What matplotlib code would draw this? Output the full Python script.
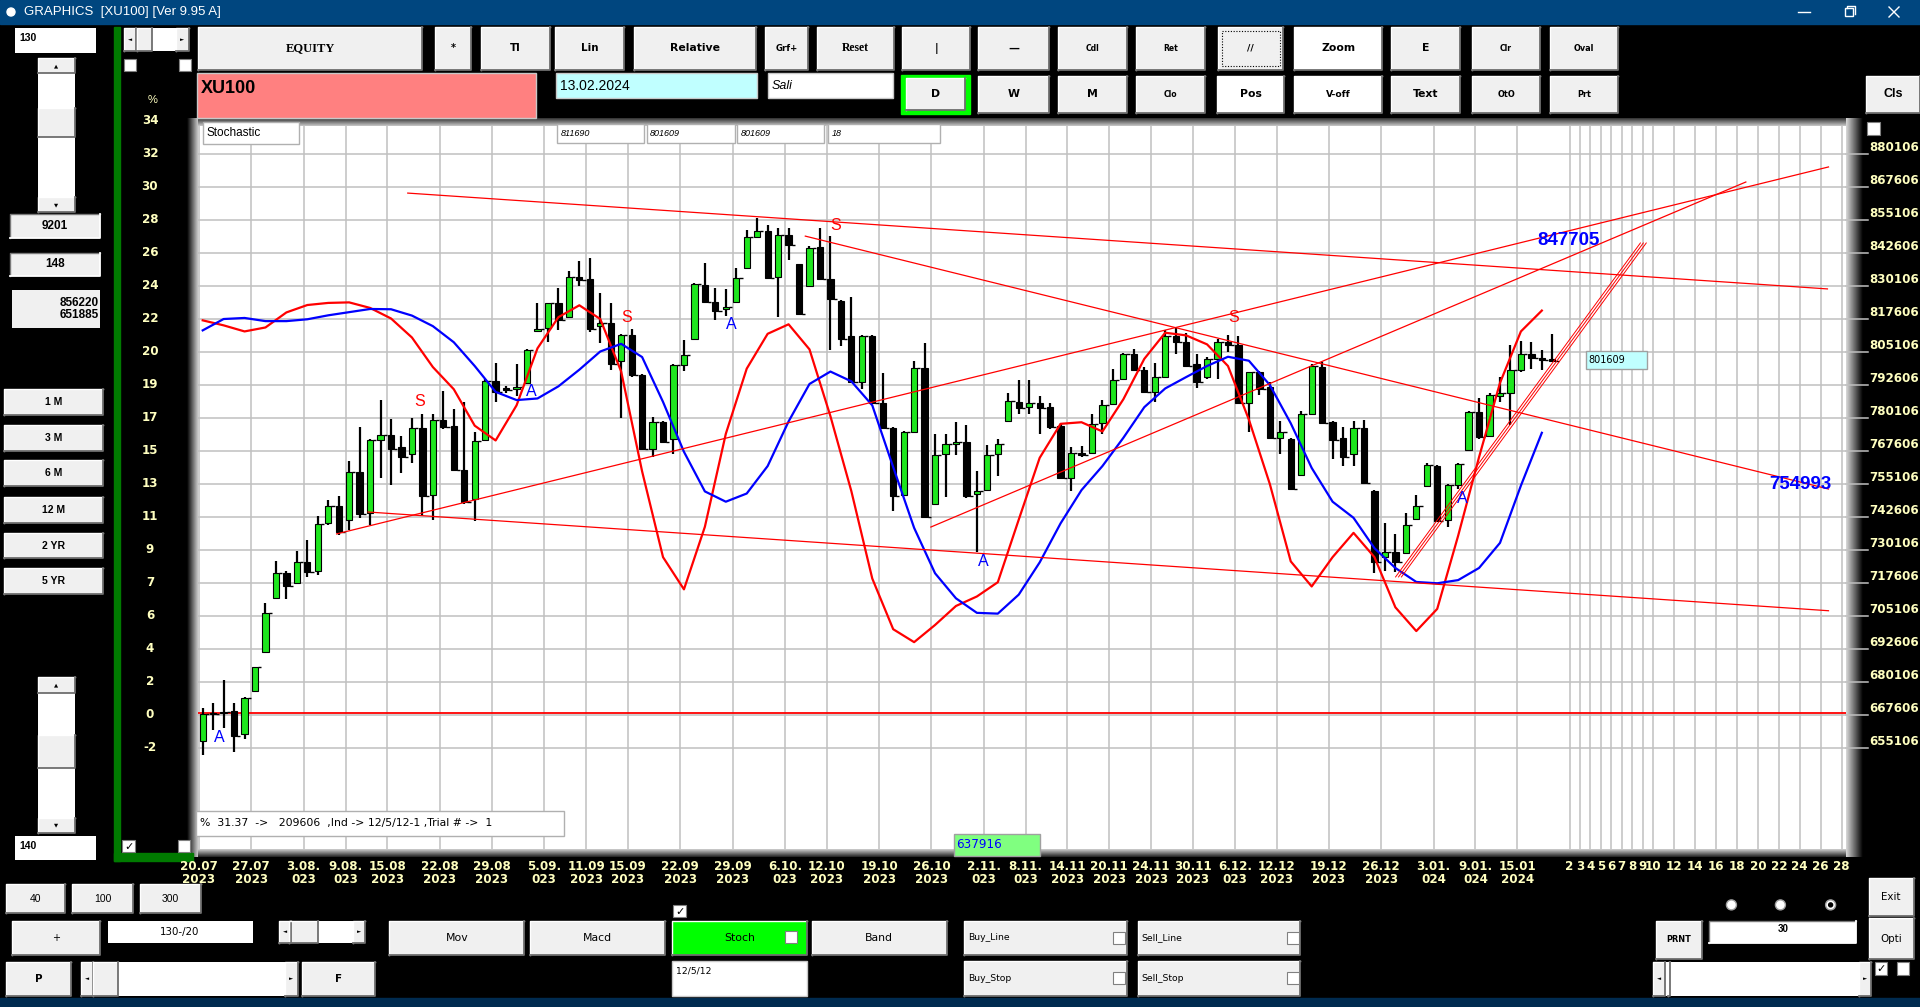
import numpy as np
import matplotlib
matplotlib.use("Agg")
import matplotlib.pyplot as plt
import matplotlib.transforms as mtransforms
from matplotlib import font_manager
from matplotlib.colors import to_rgb
from matplotlib.patches import Rectangle, Circle

# ---------------- data ----------------
dates = ["20.07\n2023", "27.07\n2023", "3.08.\n023", "9.08.\n023", "15.08\n2023",
         "22.08\n2023", "29.08\n2023", "5.09.\n023", "11.09\n2023", "15.09\n2023",
         "22.09\n2023", "29.09\n2023", "6.10.\n023", "12.10\n2023", "19.10\n2023",
         "26.10\n2023", "2.11.\n023", "8.11.\n023", "14.11\n2023", "20.11\n2023",
         "24.11\n2023", "30.11\n2023", "6.12.\n023", "12.12\n2023", "19.12\n2023",
         "26.12\n2023", "3.01.\n024", "9.01.\n024", "15.01\n2024"]
date_bars = [0, 5, 10, 14, 18, 23, 28, 33, 37, 41, 46, 51, 56, 60, 65,
             70, 75, 79, 83, 87, 91, 95, 99, 103, 108, 113, 118, 122, 126]
future_days = ["2", "3", "4", "5", "6", "7", "8", "9", "10",
               "12", "14", "16", "18", "20", "22", "24", "26", "28"]
future_bars = [131, 132, 133, 134, 135, 136, 137, 138, 139,
               141, 143, 145, 147, 149, 151, 153, 155, 157]

# price grid (right axis, index x100) and the matching % labels on the left
price_ticks = [655106, 667606, 680106, 692606, 705106, 717606, 730106, 742606,
               755106, 767606, 780106, 792606, 805106, 817606, 830106, 842606,
               855106, 867606, 880106]
pct_labels = ["-2", "0", "2", "4", "6", "7", "9", "11", "13", "15",
              "17", "19", "20", "22", "24", "26", "28", "30", "32", "34"]

opens = [6577, 6681, 6683, 6692, 6604, 6767, 6915, 7121, 7213, 7175,
         7256, 7220, 7402, 7467, 7416, 7596, 7443, 7718, 7737, 7691,
         7666, 7765, 7511, 7795, 7772, 7603, 7493, 7718, 7941, 7914,
         7910, 7934, 8129, 8143, 8235, 8183, 8336, 8327, 8151, 8160,
         8018, 8116, 7964, 7684, 7785, 7720, 8000, 8099, 8306, 8241,
         8214, 8239, 8370, 8485, 8509, 8336, 8496, 8383, 8302, 8447,
         8327, 8244, 8113, 7937, 8113, 7856, 7765, 7511, 7747, 7991,
         7474, 7664, 7704, 7710, 7515, 7528, 7664, 7788, 7862, 7842,
         7858, 7842, 7772, 7572, 7669, 7669, 7781, 7853, 7948, 8045,
         7984, 7899, 7957, 8113, 8088, 8007, 7955, 8025, 8088, 8079,
         7858, 7975, 7917, 7727, 7723, 7585, 7815, 7994, 7785, 7727,
         7664, 7765, 7524, 7274, 7294, 7290, 7420, 7545, 7619, 7416,
         7549, 7680, 7825, 7734, 7885, 7896, 7984, 8045, 8029, 8025]
closes = [6679, 6679, 6689, 6597, 6742, 6857, 7064, 7213, 7166, 7256,
          7216, 7400, 7467, 7371, 7596, 7436, 7716, 7737, 7684, 7653,
          7765, 7507, 7795, 7768, 7603, 7484, 7714, 7941, 7900, 7906,
          7917, 8059, 8140, 8235, 8174, 8336, 8322, 8140, 8160, 8005,
          8116, 7964, 7684, 7785, 7711, 8000, 8038, 8309, 8241, 8208,
          8221, 8333, 8485, 8509, 8332, 8496, 8455, 8194, 8444, 8329,
          8251, 8102, 7937, 8113, 7858, 7765, 7504, 7747, 7991, 7425,
          7662, 7704, 7710, 7504, 7524, 7662, 7703, 7866, 7840, 7858,
          7840, 7768, 7572, 7669, 7660, 7777, 7852, 7946, 8045, 7984,
          7899, 7957, 8113, 8088, 7998, 7937, 8025, 8088, 8079, 7858,
          7975, 7910, 7727, 7747, 7534, 7815, 7998, 7781, 7718, 7655,
          7765, 7555, 7254, 7294, 7254, 7396, 7466, 7623, 7412, 7549,
          7628, 7825, 7730, 7887, 7896, 7982, 8045, 8029, 8021, 8016]
highs = [6703, 6722, 6807, 6722, 6746, 6858, 7101, 7258, 7220, 7297,
         7339, 7430, 7490, 7504, 7639, 7768, 7723, 7869, 7799, 7731,
         7802, 7815, 7818, 7903, 7835, 7862, 7747, 7950, 8011, 7923,
         8005, 8061, 8237, 8237, 8295, 8356, 8397, 8408, 8275, 8235,
         8120, 8140, 7967, 7804, 7791, 8005, 8095, 8312, 8390, 8295,
         8289, 8370, 8512, 8559, 8532, 8519, 8519, 8386, 8451, 8519,
         8492, 8248, 8259, 8115, 8115, 7971, 7768, 7750, 8018, 8086,
         7741, 7741, 7785, 7775, 7599, 7700, 7720, 7896, 7944, 7944,
         7885, 7856, 7781, 7693, 7696, 7815, 7869, 7988, 8048, 8061,
         7994, 8011, 8133, 8147, 8124, 8045, 8032, 8102, 8115, 8113,
         7977, 7980, 7937, 7791, 7727, 7829, 8005, 8015, 7788, 7768,
         7788, 7795, 7528, 7402, 7362, 7443, 7511, 7632, 7622, 7551,
         7632, 7829, 7876, 7896, 7957, 8079, 8092, 8088, 8059, 8120]
lows = [6523, 6618, 6627, 6536, 6584, 6762, 6913, 7118, 7114, 7172,
        7200, 7206, 7396, 7359, 7375, 7423, 7396, 7572, 7549, 7592,
        7632, 7430, 7416, 7761, 7599, 7477, 7412, 7714, 7862, 7896,
        7885, 7930, 8126, 8088, 8133, 8180, 8302, 8126, 8086, 7984,
        7802, 7957, 7680, 7653, 7707, 7666, 7980, 8097, 8237, 8171,
        8187, 8235, 8367, 8481, 8329, 8183, 8400, 8191, 8300, 8322,
        8059, 8075, 7934, 7910, 7853, 7761, 7450, 7504, 7745, 7423,
        7470, 7501, 7660, 7497, 7294, 7524, 7582, 7785, 7818, 7818,
        7741, 7761, 7569, 7524, 7653, 7666, 7741, 7849, 7944, 7980,
        7896, 7862, 7955, 8045, 7994, 7913, 7950, 7950, 8052, 7856,
        7747, 7890, 7723, 7664, 7531, 7582, 7812, 7777, 7646, 7619,
        7619, 7551, 7213, 7220, 7217, 7287, 7416, 7542, 7409, 7389,
        7531, 7677, 7723, 7731, 7862, 7774, 7977, 7988, 7984, 8015]

# stochastic %K (red) and %D (blue), drawn on the price scale, every 2nd bar
stoch_bars = list(range(0, 129, 2))
stoch_k = [8171, 8152, 8129, 8144, 8201, 8229, 8237, 8239, 8218, 8178,
           8106, 7994, 7910, 7772, 7716, 7849, 8065, 8183, 8228, 8176,
           7977, 7599, 7274, 7152, 7389, 7741, 7988, 8120, 8156, 8061,
           7808, 7524, 7193, 7001, 6952, 7017, 7089, 7125, 7179, 7416,
           7650, 7779, 7785, 7750, 7872, 8025, 8124, 8114, 8080, 7998,
           7795, 7551, 7258, 7163, 7274, 7366, 7274, 7084, 6994, 7078,
           7355, 7653, 7934, 8129, 8208]
stoch_d = [8133, 8176, 8180, 8168, 8168, 8175, 8190, 8202, 8214, 8213,
           8189, 8149, 8088, 7998, 7900, 7869, 7875, 7921, 7984, 8053,
           8082, 8032, 7862, 7673, 7523, 7484, 7515, 7619, 7788, 7930,
           7977, 7940, 7849, 7615, 7385, 7213, 7118, 7063, 7060, 7132,
           7254, 7402, 7528, 7619, 7726, 7842, 7913, 7956, 7998, 8033,
           8018, 7926, 7781, 7612, 7484, 7423, 7308, 7233, 7180, 7175,
           7187, 7233, 7328, 7545, 7745]

trend_lines = [((19.6, 8653), (155.3, 8290)),
               ((57.6, 8490), (155.4, 7532)),
               ((15.8, 7445), (155.4, 7071)),
               ((12.8, 7362), (155.4, 8752)),
               ((69.6, 7388), (147.5, 8695))]
channel = ((114.3, 7199), (137.7, 8464))
zero_level = 6684
base_level = 6676.06
sell_marks = [(20.7, 7862), (40.5, 8180), (60.5, 8532), (98.5, 8180)]
buy_marks = [(1.6, 6589), (31.4, 7900), (50.5, 8156), (74.6, 7258), (120.4, 7497)]
value_tags = [("847705", 130.6, 8473), ("754993", 152.7, 7551)]

# ---------------- fonts ----------------
names = {f.name for f in font_manager.fontManager.ttflist}
HAS_NARROW = 'Liberation Sans Narrow' in names
NARROW = 'Liberation Sans Narrow' if HAS_NARROW else 'DejaVu Sans'
NS = 1.0 if HAS_NARROW else 0.78
SANS = 'Liberation Sans' if 'Liberation Sans' in names else 'DejaVu Sans'
SERIF = 'Liberation Serif' if 'Liberation Serif' in names else 'DejaVu Serif'
YEL = '#FFFFC0'
BTN = '#F0F0F0'
GREEN = '#1EE61E'

W, H = 1920, 1007
S = W / 1568.0  # screen-shot units -> output pixels

fig = plt.figure(figsize=(W / 100, H / 100), dpi=100)
fig.patch.set_facecolor('black')
g = fig.add_axes([0, 0, 1, 1])
g.set_zorder(0)
g.patch.set_visible(False)
g.axis('off')


def grad(x0, x1, y0, y1, c0, c1, horizontal=True):
    t = np.linspace(0, 1, 40)[:, None]
    cols = np.array(to_rgb(c0)) * (1 - t) + np.array(to_rgb(c1)) * t
    img = cols[None, :, :] if horizontal else cols[:, None, :]
    g.imshow(img, extent=(x0, x1, y1, y0), aspect='auto',
             interpolation='bilinear', zorder=0.5)


def box(x0, y0, x1, y1, face=BTN, bevel=True, edge='none', a=None, z=1, sunken=False):
    a = a or g
    X0, Y0, X1, Y1 = x0 * S, y0 * S, x1 * S, y1 * S
    a.add_patch(Rectangle((X0, Y0), X1 - X0, Y1 - Y0, facecolor=face,
                          edgecolor=edge, lw=1.0, zorder=z))
    if bevel:
        hi, lo = ('#7A7A7A', 'white') if sunken else ('white', '#6E6E6E')
        a.plot([X0, X0, X1], [Y1, Y0, Y0], color=hi, lw=1.0, zorder=z + 0.1)
        a.plot([X0, X1, X1], [Y1, Y1, Y0], color=lo, lw=1.3, zorder=z + 0.1)
    return X0, Y0, X1, Y1


def button(x0, y0, x1, y1, label, size=9, face=BTN, weight='bold', family=None,
           ha='center', color='black', style='normal', a=None, sunken=False, dy=0):
    a = a or g
    X0, Y0, X1, Y1 = box(x0, y0, x1, y1, face, a=a, sunken=sunken)
    tx = {'center': (X0 + X1) / 2, 'left': X0 + 4, 'right': X1 - 4}[ha]
    fam = family or NARROW
    sz = size * NS if fam == NARROW else size
    a.text(tx, (Y0 + Y1) / 2 + dy, label, ha=ha, va='center', fontsize=sz,
           fontweight=weight, family=fam, color=color, style=style, zorder=3)


def checkbox(x, y, checked=False, a=None):
    a = a or g
    a.add_patch(Rectangle((x * S, y * S), 10 * S, 10 * S, facecolor='white',
                          edgecolor='#808080', lw=0.8, zorder=3))
    if checked:
        a.text((x + 5) * S, (y + 5.5) * S, '\u2713', ha='center', va='center',
               fontsize=8, family='DejaVu Sans', color='black', zorder=4)


def hscroll(x0, y0, x1, y1, t0, t1):
    box(x0, y0, x1, y1, face='white', bevel=False)
    button(x0, y0, x0 + 10, y1, '\u25c4', size=5, family='DejaVu Sans')
    button(x1 - 10, y0, x1, y1, '\u25ba', size=5, family='DejaVu Sans')
    box(t0, y0, t1, y1)


def vscroll(x0, y0, x1, y1, t0, t1):
    box(x0, y0, x1, y1, face='white', bevel=False)
    button(x0, y0, x1, y0 + 13, '\u25b2', size=5, family='DejaVu Sans')
    button(x0, y1 - 12, x1, y1, '\u25bc', size=5, family='DejaVu Sans')
    box(x0, t0, x1, t1)


# ---------------- window chrome ----------------
g.add_patch(Rectangle((0, 0), W, 24, color='#00467F', zorder=1))
g.add_patch(Circle((11, 12), 4, color='white', zorder=2))
g.text(24, 12.5, 'GRAPHICS  [XU100] [Ver 9.95 A]', color='white', fontsize=9.5,
       family=SANS, va='center', ha='left', zorder=2)
g.plot([1798, 1810], [12, 12], color='white', lw=1)
g.add_patch(Rectangle((1845, 8), 8, 8, fill=False, ec='white', lw=1))
g.plot([1847, 1847, 1855, 1855], [8, 6, 6, 14], color='white', lw=1)
g.plot([1889, 1899], [7, 17], color='white', lw=1)
g.plot([1889, 1899], [17, 7], color='white', lw=1)
g.add_patch(Rectangle((0, 998), W, 9, color='#002B50', zorder=1))

# green frame
g.add_patch(Rectangle((93 * S, 22 * S), 5 * S, 681 * S, color='#007A00', zorder=1))
g.add_patch(Rectangle((93 * S, 697 * S), 65 * S, 6 * S, color='#007A00', zorder=1))

# left column
box(12, 23, 78, 43, face='white', bevel=False)
g.text(16 * S, 31 * S, '130', fontsize=7.5, fontweight='bold', family=SANS, va='center')
vscroll(31, 47, 61, 173, 88, 112)
button(8, 175, 82, 194, '9201', size=8.5, family=SANS, sunken=True)
button(8, 207, 82, 225, '148', size=8.5, family=SANS, sunken=True)
box(10, 237, 82, 268, bevel=False)
g.text(81 * S, 252.5 * S, '856220\n651885', ha='right', va='center', fontsize=8.5,
       fontweight='bold', family=SANS, linespacing=1.05)
for k, lab in enumerate(['1 M', '3 M', '6 M', '12 M', '2 YR', '5 YR']):
    y0 = [318, 347, 376, 406, 435, 464][k]
    button(3, y0, 84, y0 + 21, lab, size=7.5, family=SANS)
vscroll(31, 553, 61, 680, 600, 627)
box(12, 683, 78, 702, face='white', bevel=False)
g.text(16 * S, 691 * S, '140', fontsize=7.5, fontweight='bold', family=SANS, va='center')
checkbox(100, 686, True)
checkbox(145, 686)
hscroll(101, 23, 154, 42, 112, 124)
checkbox(101, 48)
checkbox(146, 48)
g.text(125 * S, 82 * S, '%', color=YEL, fontsize=8, ha='center', va='center', family=SANS)

# top buttons, first row
row1 = [(162, 345, 'EQUITY', 9, SERIF), (355, 385, '*', 9, None), (393, 449, 'Tl', 9.5, None),
        (453, 510, 'Lin', 9.5, None), (518, 617, 'Relative', 10, None),
        (625, 660, 'Grf+', 8, None), (667, 730, 'Reset', 8.5, SERIF),
        (737, 792, '|', 9, None), (799, 857, '\u2014', 10, None),
        (864, 920, 'Cdl', 7, None), (928, 984, 'Ret', 7, None),
        (995, 1048, '//', 8.5, None), (1057, 1129, 'Zoom', 10, None),
        (1136, 1192, 'E', 10, None), (1202, 1258, 'Clr', 7, None),
        (1266, 1321, 'Oval', 7.5, None)]
for x0, x1, lab, sz, fam in row1:
    face = 'white' if lab == 'Zoom' else BTN
    button(x0, 22, x1, 57, lab, size=sz, family=fam, face=face)
g.add_patch(Rectangle((998 * S, 25 * S), 47 * S, 29 * S, fill=False, ec='black',
                      lw=0.8, ls=(0, (1, 1.5)), zorder=3))

# second row
box(161, 60, 438, 96, face='#FF8080', bevel=False, edge='#C8C8C8')
g.text(164 * S, 72 * S, 'XU100', fontsize=13, fontweight='bold', family=SANS,
       va='center', ha='left')
box(454, 60, 618, 80, face='#C0FFFF', bevel=False, edge='#C8C8C8')
g.text(457 * S, 70 * S, '13.02.2024', fontsize=10, family=SANS, va='center')
box(627, 60, 729, 80, face='white', bevel=False, edge='#C8C8C8')
g.text(630 * S, 70 * S, 'Sali', fontsize=9, family=SANS, style='italic', va='center')
g.add_patch(Rectangle((736 * S, 61 * S), 56 * S, 32 * S, color='#00FF00', zorder=1))
button(740, 64, 788, 90, 'D', size=10)
row2 = [(799, 857, 'W', 10, BTN), (864, 920, 'M', 10, BTN), (928, 984, 'Clo', 7, BTN),
        (994, 1049, 'Pos', 10, 'white'), (1057, 1129, 'V-off', 8.5, 'white'),
        (1136, 1192, 'Text', 10, BTN), (1202, 1258, 'OtO', 7.5, BTN),
        (1266, 1321, 'Prt', 7.5, BTN)]
for x0, x1, lab, sz, face in row2:
    button(x0, 62, x1, 92, lab, size=sz, face=face)
button(1524, 62, 1568, 92, 'Cls', size=9, family=SANS)

# bottom controls
for x0, x1, lab in [(5, 53, '40'), (59, 109, '100'), (114, 164, '300')]:
    button(x0, 722, x1, 746, lab, size=7.5, family=SANS, weight='normal')
button(10, 752, 82, 780, '+', size=9, weight='normal')
box(88, 752, 207, 770, face='white', bevel=False)
g.text(147 * S, 761 * S, '130-/20', fontsize=9.5 * NS, family=NARROW, ha='center', va='center')
hscroll(228, 752, 298, 770, 236, 260)
button(5, 786, 58, 813, 'P', size=9.5)
hscroll(66, 786, 243, 813, 76, 96)
button(247, 786, 306, 813, 'F', size=9.5)
button(318, 752, 428, 780, 'Mov', size=10, weight='normal')
button(433, 752, 543, 780, 'Macd', size=10, weight='normal')
button(549, 752, 659, 780, 'Stoch', size=10, weight='normal', face='#00FF00')
checkbox(641, 760)
checkbox(550, 739, True)
button(663, 752, 773, 780, 'Band', size=10, weight='normal')
box(549, 785, 659, 813, face='white', bevel=False, edge='#C8C8C8')
g.text(552 * S, 793 * S, '12/5/12', fontsize=8.5 * NS, family=NARROW, va='center')
for x0, y0, lab in [(787, 752, 'Buy_Line'), (929, 752, 'Sell_Line'),
                    (787, 785, 'Buy_Stop'), (929, 785, 'Sell_Stop')]:
    button(x0, y0, x0 + 133, y0 + 28, lab, size=8.5, ha='left', weight='normal')
    checkbox(x0 + 122, y0 + 9)
for k, cx in enumerate([1414, 1454, 1495]):
    g.add_patch(Circle((cx * S, 739 * S), 5, facecolor='white', ec='#A0A0A0', zorder=3))
    if k == 2:
        g.add_patch(Circle((cx * S, 739 * S), 2, color='black', zorder=4))
button(1526, 717, 1563, 748, 'Exit', size=9.5, weight='normal')
button(1526, 750, 1563, 783, 'Opti', size=9.5, weight='normal')
button(1352, 752, 1390, 783, 'PRNT', size=7.5)
box(1396, 752, 1516, 770, face='white', bevel=True, sunken=True)
g.text(1456 * S, 759 * S, '30', fontsize=7, fontweight='bold', family=SANS, ha='center', va='center')
hscroll(1350, 786, 1528, 813, 1362, 1364)
checkbox(1531, 786, True)
checkbox(1549, 786)
checkbox(1525, 100)

# shading around the plot area
PL, PR, PT, PB = 198, 1846, 126, 849
grad(187, PL, 118, 857, 'black', '#C8C8C8')
grad(PR, 1863, 118, 857, '#D8D8D8', 'black')
grad(PL, PR, PB, 857, '#D0D0D0', '#202020', horizontal=False)
grad(PL, PR, 118, PT, '#303030', '#C8C8C8', horizontal=False)

# ---------------- price chart ----------------
BAR0, STEP = 202.7, 10.462
PPX = 125 / 33.0


def price_at(ypx):
    return base_level + (715 - ypx) * PPX


ax = fig.add_axes([PL / W, 1 - PB / H, (PR - PL) / W, (PB - PT) / H])
ax.set_zorder(1)
ax.set_facecolor('white')
ax.set_xlim((PL - BAR0) / STEP, (PR - BAR0) / STEP)
ax.set_ylim(price_at(PB), price_at(PT))
for sp in ax.spines.values():
    sp.set_visible(False)

grid_levels = [p / 100 for p in price_ticks]
ax.set_yticks(grid_levels)
ax.tick_params(axis='y', left=False, labelleft=False)
ax.set_xticks([b - 0.35 for b in date_bars + future_bars])
ax.set_xticklabels(dates + future_days, fontsize=11 * NS, fontweight='bold',
                   family=NARROW, color=YEL, linespacing=0.95)
ax.tick_params(axis='x', length=0, pad=8)
ax.grid(True, color='#C0C0C0', lw=1.1)
ax.set_axisbelow(True)

blend = mtransforms.blended_transform_factory(g.transData, ax.transData)
up3 = mtransforms.offset_copy(blend, fig=fig, y=3, units='dots')
left_levels = grid_levels + [grid_levels[-1] + 125]
for lv, lab in zip(left_levels, pct_labels):
    ax.text(150, lv, lab, transform=blend, clip_on=False, ha='center', va='center',
            color=YEL, fontsize=11 * NS, fontweight='bold', family=NARROW)
for lv, p in zip(grid_levels, price_ticks):
    ax.plot([PR, 1868], [lv, lv], transform=blend, clip_on=False, color='#C0C0C0', lw=1.1)
    ax.text(1869, lv, f"{p}", transform=up3, clip_on=False, ha='left',
            va='baseline', color=YEL, fontsize=11 * NS, fontweight='bold', family=NARROW)

ax.axhline(zero_level, color='red', lw=1.3, zorder=2)

# candles
for i, (o, h, l, c) in enumerate(zip(opens, highs, lows, closes)):
    ax.vlines(i, l, h, color='black', lw=1.6, zorder=3)
    bottom, height = min(o, c), max(abs(c - o), 4)
    face = GREEN if c > o else 'black'
    ax.add_patch(Rectangle((i - 0.3, bottom), 0.6, height, facecolor=face,
                           edgecolor='black', lw=0.8, zorder=3.2))
    ax.hlines(c, i + 0.3, i + 0.6, color='black', lw=1.0, zorder=3.2)

# stochastic curves
ax.plot(stoch_bars, stoch_k, color='#FF0000', lw=1.6, zorder=4, solid_joinstyle='round')
ax.plot(stoch_bars, stoch_d, color='#0000FF', lw=1.6, zorder=4, solid_joinstyle='round')

# trend lines
for (x0, y0), (x1, y1) in trend_lines:
    ax.plot([x0, x1], [y0, y1], color='#FF0000', lw=0.9, zorder=5)
(cx0, cy0), (cx1, cy1) = channel
for off in (-0.28, 0.0, 0.28):
    ax.plot([cx0 + off, cx1 + off], [cy0, cy1], color='#FF0000', lw=0.7, zorder=5)

for x, y in sell_marks:
    ax.text(x, y, 'S', color='#FF0000', fontsize=11.5, family=SANS, ha='center', va='center', zorder=6)
for x, y in buy_marks:
    ax.text(x, y, 'A', color='#0000FF', fontsize=11.5, family=SANS, ha='center', va='center', zorder=6)
for lab, x, y in value_tags:
    ax.text(x, y, lab, color='#0000FF', fontsize=13.5, fontweight='bold', family=SANS,
            ha='center', va='center', zorder=6)

# ---------------- boxes drawn over the chart ----------------
o = fig.add_axes([0, 0, 1, 1])
o.set_zorder(2)
o.patch.set_visible(False)
o.axis('off')
o.set_xlim(0, W)
o.set_ylim(H, 0)
box(166, 100, 244, 118, face='white', bevel=False, edge='#B0B0B0', a=o)
o.text(169 * S, 108.5 * S, 'Stochastic', fontsize=8.5, family=SANS, va='center')
for x0, x1, lab in [(455, 526, '811690'), (528, 600, '801609'),
                    (602, 673, '801609'), (676, 768, '18')]:
    box(x0, 101, x1, 117, face='white', bevel=False, edge='#B0B0B0', a=o)
    o.text((x0 + 3) * S, 109 * S, lab, fontsize=6.5, family=SANS, style='italic', va='center')
box(160, 662, 461, 683, face='white', bevel=False, edge='#B0B0B0', a=o)
o.text(163 * S, 672.5 * S, '%  31.37  ->   209606  ,Ind -> 12/5/12-1 ,Trial # ->  1',
       fontsize=10 * NS, family=NARROW, va='center')
box(779, 681, 849, 699, face='#80FF80', bevel=False, edge='#A0A0A0', a=o)
o.text(781 * S, 690 * S, '637916', fontsize=11 * NS, family=NARROW, color='#0000FF', va='center')
box(1295, 287, 1345, 301, face='#C0FFFF', bevel=False, edge='#A0A0A0', a=o)
o.text(1297 * S, 294 * S, '801609', fontsize=9 * NS, family=NARROW, va='center')

g.set_xlim(0, W)
g.set_ylim(H, 0)
fig.savefig('out.png', dpi=100, facecolor='black')
